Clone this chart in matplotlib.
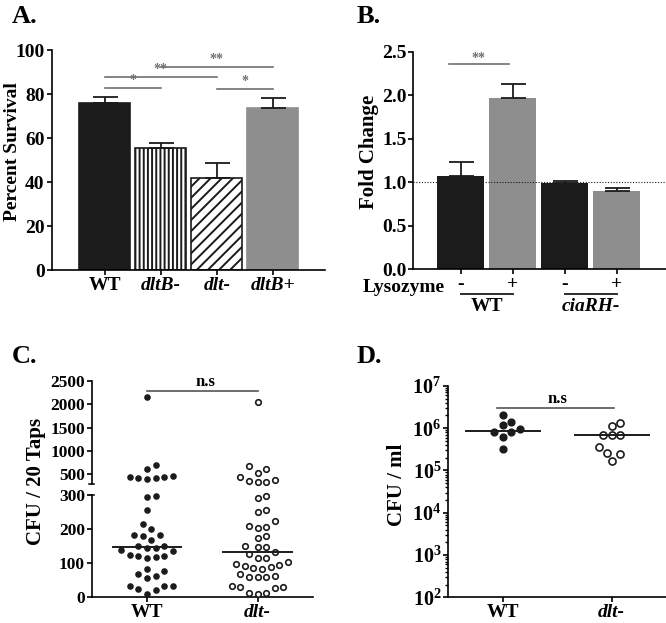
import numpy as np
import matplotlib
matplotlib.use("Agg")
import matplotlib.pyplot as plt
from matplotlib.ticker import LogLocator, FuncFormatter, NullFormatter

# --- data -------------------------------------------------------------
# A: percent survival
a_groups = ["WT", "dltB-", "dlt-", "dltB+"]
a_mean = [75.8, 55.3, 42.0, 73.5]
a_err = [3.0, 2.6, 6.5, 4.5]
# significance bars (from index, to index, height, label)
a_sig = [(0, 1, 82.6, "*"), (0, 2, 87.6, "**"), (1, 3, 92.4, "**"), (2, 3, 82.1, "*")]

# B: fold change
b_ticklabels = ["-", "+", "-", "+"]
b_strains = ["WT", "ciaRH-"]
b_mean = [1.07, 1.97, 0.995, 0.90]
b_err = [0.16, 0.16, 0.02, 0.03]

# C: CFU / 20 taps
c_groups = ["WT", "dlt-"]
c_wt = [2150, 710, 610, 470, 440, 430, 410, 420, 450,
        295, 297, 256, 215, 199, 183, 181, 183, 168, 150, 150, 144, 144,
        136, 138, 121, 119, 114, 121, 125, 78, 84, 62, 57, 67,
        34, 34, 33, 24, 21, 10]
c_dlt = [2050, 680, 610, 530, 450, 370, 345, 345, 355,
         290, 298, 256, 249, 225, 209, 202, 207, 180, 173, 150, 147, 148,
         132, 114, 114, 126, 103, 95, 90, 82, 87, 93, 97,
         63, 60, 60, 60, 67, 34, 31, 13, 10, 13, 26, 31]

# D: CFU / ml
d_groups = ["WT", "dlt-"]
d_wt = [2.1e6, 1.4e6, 1.2e6, 9.5e5, 8.1e5, 8.1e5, 6.3e5, 3.2e5]
d_dlt = [1.3e6, 1.13e6, 6.8e5, 6.8e5, 6.8e5, 3.6e5, 2.6e5, 2.5e5, 1.7e5]

# --- style ------------------------------------------------------------
plt.rcParams["font.family"] = "Liberation Serif"
plt.rcParams["font.weight"] = "bold"
plt.rcParams["axes.labelweight"] = "bold"
plt.rcParams["hatch.linewidth"] = 1.4
plt.rcParams["mathtext.fontset"] = "custom"
plt.rcParams["mathtext.bf"] = "Liberation Serif:bold"
plt.rcParams["mathtext.rm"] = "Liberation Serif:bold"

BLACK = "#1b1b1b"
GRAY = "#8e8e8e"
SIG = "#707070"


def style_axis(ax):
    for s in ["top", "right"]:
        ax.spines[s].set_visible(False)
    for s in ["left", "bottom"]:
        ax.spines[s].set_linewidth(1.2)
    ax.tick_params(direction="out", length=3.5, width=1.2, pad=1.5)


def swarm(ypix, d):
    # simple beeswarm in pixel space
    xs = np.zeros(len(ypix))
    done = []
    for i in np.argsort(ypix):
        y = ypix[i]
        cands = [0.0]
        for k in range(1, 60):
            cands += [k * d / 2, -k * d / 2]
        for c in cands:
            if all((c - px) ** 2 + (y - py) ** 2 >= d * d * 0.98 for px, py in done):
                break
        xs[i] = c
        done.append((c, y))
    return xs


fig = plt.figure(figsize=(6.66, 6.23), dpi=100)

# --- A ----------------------------------------------------------------
ax = fig.add_axes([0.0776, 0.5666, 0.4104, 0.3531])
xa = np.arange(len(a_groups))
ax.bar(xa, a_mean, width=0.91, color=[BLACK, "white", "white", GRAY],
       edgecolor=[BLACK, BLACK, BLACK, GRAY], linewidth=1.2,
       hatch=[None, "||||", "///", None])
ax.errorbar(xa, a_mean, yerr=[np.zeros(len(a_err)), a_err], fmt="none",
            ecolor=BLACK, elinewidth=1.3, capsize=9, capthick=1.3)
for i, j, h, lab in a_sig:
    ax.plot([i, j], [h, h], color=SIG, lw=1.2)
    ax.text((i + j) / 2, h + 0.5, lab, ha="center", va="bottom", color=SIG,
            fontsize=10)
ax.set_xlim(-0.95, 3.93)
ax.set_ylim(0, 100)
ax.set_yticks([0, 20, 40, 60, 80, 100])
ax.set_xticks(xa)
ax.set_xticklabels(a_groups, fontsize=14)
for t, g in zip(ax.get_xticklabels(), a_groups):
    if g != "WT":
        t.set_style("italic")
ax.tick_params(axis="y", labelsize=14)
ax.set_ylabel("Percent Survival", fontsize=14)
style_axis(ax)
ax.yaxis.set_label_coords(-0.112, 0.54)

# --- B ----------------------------------------------------------------
ax = fig.add_axes([0.6206, 0.5677, 0.3794, 0.3493])
xb = np.arange(len(b_mean))
ax.bar(xb, b_mean, width=0.91, color=[BLACK, GRAY, BLACK, GRAY],
       edgecolor="none")
ax.errorbar(xb, b_mean, yerr=[np.zeros(len(b_err)), b_err], fmt="none",
            ecolor=BLACK, elinewidth=1.3, capsize=9, capthick=1.3)
ax.axhline(1.0, color=BLACK, lw=0.8, ls=(0, (1, 1.5)), zorder=5)
ax.plot([-0.22, 0.93], [2.36, 2.36], color=SIG, lw=1.2)
ax.text(0.35, 2.35, "**", ha="center", va="bottom", color=SIG, fontsize=10)
ax.set_xlim(-0.91, 3.95)
ax.set_ylim(0, 2.5)
ax.set_yticks([0, 0.5, 1.0, 1.5, 2.0, 2.5])
ax.set_yticklabels(["0.0", "0.5", "1.0", "1.5", "2.0", "2.5"])
ax.set_xticks(xb)
ax.set_xticklabels(b_ticklabels, fontsize=14)
ax.tick_params(axis="y", labelsize=14)
ax.set_ylabel("Fold Change", fontsize=15)
style_axis(ax)
ax.yaxis.set_label_coords(-0.135, 0.54)
trans = ax.get_xaxis_transform()
ax.text(-0.3, -0.082, "Lysozyme", transform=trans, ha="right", va="center",
        fontsize=14)
for k, name in enumerate(b_strains):
    x0 = 2 * k
    ax.plot([x0, x0 + 1], [-0.115, -0.115], color=BLACK, lw=1.3,
            transform=trans, clip_on=False)
    ax.text(x0 + 0.5, -0.13, name, transform=trans, ha="center", va="top",
            fontsize=14, style="italic" if name != "WT" else "normal")

# --- C (broken axis) --------------------------------------------------
ax_lo = fig.add_axes([0.1377, 0.0413, 0.3323, 0.1642])
ax_hi = fig.add_axes([0.1377, 0.2236, 0.3323, 0.1653])
for a_ in (ax_lo, ax_hi):
    a_.set_xlim(0.5, 2.5)
    style_axis(a_)
ax_lo.set_ylim(0, 300)
ax_hi.set_ylim(300, 2500)
ax_lo.set_yticks([0, 100, 200, 300])
ax_hi.set_yticks([500, 1000, 1500, 2000, 2500])
ax_hi.spines["bottom"].set_visible(False)
ax_hi.tick_params(axis="x", bottom=False, labelbottom=False)
ax_lo.tick_params(axis="y", labelsize=12.5)
ax_hi.tick_params(axis="y", labelsize=12.5)
ax_lo.set_xticks([1, 2])
ax_lo.set_xticklabels(c_groups, fontsize=14)
ax_lo.get_xticklabels()[1].set_style("italic")
# break caps
ax_hi.plot([-0.012, 0.012], [0, 0], transform=ax_hi.transAxes, color=BLACK,
           lw=1.2, clip_on=False)
ax_lo.plot([-0.012, 0.012], [1, 1], transform=ax_lo.transAxes, color=BLACK,
           lw=1.2, clip_on=False)

px_per_x = ax_lo.transData.transform((2, 0))[0] - ax_lo.transData.transform((1, 0))[0]
for gi, vals in enumerate([c_wt, c_dlt]):
    vals = np.array(vals, float)
    ypix = np.array([(ax_lo if v <= 300 else ax_hi).transData.transform((1, v))[1]
                     for v in vals])
    xs = gi + 1 + swarm(ypix, 8.6) / px_per_x
    for a_, m in ((ax_lo, vals <= 300), (ax_hi, vals > 300)):
        if gi == 0:
            a_.scatter(xs[m], vals[m], s=14, color=BLACK, zorder=3, clip_on=False)
        else:
            a_.scatter(xs[m], vals[m], s=16, facecolor="white", edgecolor=BLACK,
                       linewidth=1.2, zorder=3, clip_on=False)
    med = np.median(vals)
    ax_lo.plot([gi + 1 - 0.31, gi + 1 + 0.31], [med, med], color=BLACK, lw=1.4,
               zorder=4)
ax_hi.plot([1, 2], [2280, 2280], color="#555555", lw=1.2)
ax_hi.text(1.53, 2300, "n.s", ha="center", va="bottom", fontsize=12)
fig.text(35.7 / 666, 1 - 481.7 / 623, "CFU / 20 Taps", rotation=90,
         ha="center", va="center", fontsize=15)

# --- D ----------------------------------------------------------------
ax = fig.add_axes([0.6731, 0.0413, 0.3269, 0.3392])
ax.set_yscale("log")
ax.set_ylim(1e2, 1e7)
ax.set_xlim(0.5, 2.5)
ax.yaxis.set_major_locator(LogLocator(base=10, numticks=10))
ax.yaxis.set_minor_locator(LogLocator(base=10, subs=np.arange(2, 10), numticks=100))
ax.yaxis.set_minor_formatter(NullFormatter())
ax.yaxis.set_major_formatter(FuncFormatter(
    lambda v, p: r"$\mathbf{10^{%d}}$" % round(np.log10(v))))
style_axis(ax)
ax.tick_params(axis="y", which="minor", length=2.5, width=1.0)
ax.tick_params(axis="y", labelsize=14.5)
ax.set_xticks([1, 2])
ax.set_xticklabels(d_groups, fontsize=14)
ax.get_xticklabels()[1].set_style("italic")
px_per_x = ax.transData.transform((2, 1e3))[0] - ax.transData.transform((1, 1e3))[0]
for gi, vals in enumerate([d_wt, d_dlt]):
    vals = np.array(vals, float)
    ypix = np.array([ax.transData.transform((1, v))[1] for v in vals])
    xs = gi + 1 + swarm(ypix, 8.7) / px_per_x
    if gi == 0:
        ax.scatter(xs, vals, s=24, color=BLACK, zorder=3)
    else:
        ax.scatter(xs, vals, s=26, facecolor="white", edgecolor=BLACK,
                   linewidth=1.2, zorder=3)
    med = np.median(vals)
    ax.plot([gi + 1 - 0.34, gi + 1 + 0.34], [med, med], color=BLACK, lw=1.4,
            zorder=4)
ax.plot([0.95, 2.02], [3e6, 3e6], color="#555555", lw=1.2)
ax.text(1.5, 3.2e6, "n.s", ha="center", va="bottom", fontsize=12)
ax.set_ylabel("CFU / ml", fontsize=15)
ax.yaxis.set_label_coords(-0.19, 0.53)

# --- panel letters ----------------------------------------------------
for lab, x, y in [("A.", 12, 23), ("B.", 357, 23), ("C.", 12, 363), ("D.", 357, 363)]:
    fig.text(x / 666, 1 - y / 623, lab, fontsize=19, ha="left", va="baseline")

fig.savefig("out.png", dpi=100)
